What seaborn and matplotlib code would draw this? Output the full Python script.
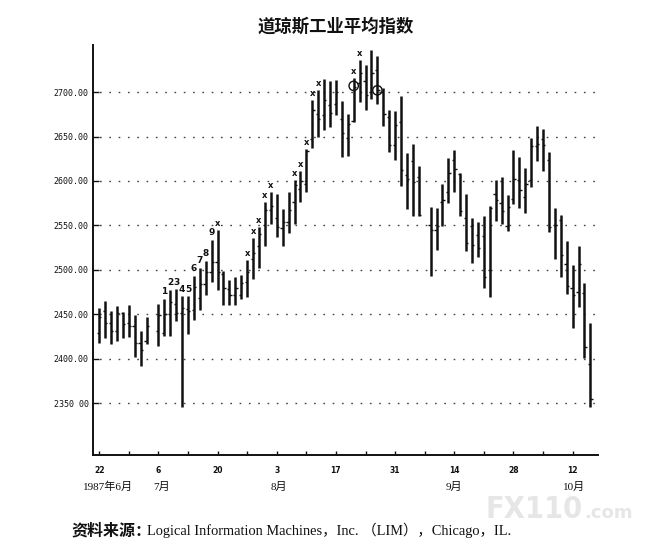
import numpy as np
import pandas as pd
import matplotlib
matplotlib.use("Agg")
import matplotlib.pyplot as plt
import seaborn as sns

# ---------------- data ----------------
dates = ["1987-06-22", "1987-06-23", "1987-06-24", "1987-06-25", "1987-06-26",
         "1987-06-29", "1987-06-30", "1987-07-01", "1987-07-02",
         "1987-07-06", "1987-07-07", "1987-07-08", "1987-07-09", "1987-07-10",
         "1987-07-13", "1987-07-14", "1987-07-15", "1987-07-16", "1987-07-17",
         "1987-07-20", "1987-07-21", "1987-07-22", "1987-07-23", "1987-07-24",
         "1987-07-27", "1987-07-28", "1987-07-29", "1987-07-30", "1987-07-31",
         "1987-08-03", "1987-08-04", "1987-08-05", "1987-08-06", "1987-08-07",
         "1987-08-10", "1987-08-11", "1987-08-12", "1987-08-13", "1987-08-14",
         "1987-08-17", "1987-08-18", "1987-08-19", "1987-08-20", "1987-08-21",
         "1987-08-24", "1987-08-25", "1987-08-26", "1987-08-27", "1987-08-28",
         "1987-08-31", "1987-09-01", "1987-09-02", "1987-09-03", "1987-09-04",
         "1987-09-08", "1987-09-09", "1987-09-10", "1987-09-11",
         "1987-09-14", "1987-09-15", "1987-09-16", "1987-09-17", "1987-09-18",
         "1987-09-21", "1987-09-22", "1987-09-23", "1987-09-24", "1987-09-25",
         "1987-09-28", "1987-09-29", "1987-09-30", "1987-10-01", "1987-10-02",
         "1987-10-05", "1987-10-06", "1987-10-07", "1987-10-08", "1987-10-09",
         "1987-10-12", "1987-10-13", "1987-10-14", "1987-10-15"]

high = [2457, 2465, 2454, 2459, 2453,
        2460, 2449, 2431, 2447,
        2461, 2467, 2477, 2478, 2470,
        2470, 2493, 2502, 2510, 2534,
        2545, 2499, 2488, 2492, 2494,
        2511, 2536, 2548, 2576, 2588,
        2585, 2568, 2588, 2601, 2611,
        2636, 2691, 2702, 2715, 2712,
        2714, 2690, 2675, 2716, 2736,
        2730, 2747, 2741, 2705, 2680,
        2679, 2696, 2631, 2642, 2617,
        2571, 2570, 2596, 2626,
        2635, 2609, 2585, 2558, 2554,
        2560, 2572, 2601, 2604, 2584,
        2635, 2627, 2614, 2648, 2662,
        2658, 2633, 2570, 2562, 2532,
        2505, 2527, 2485, 2440]

low = [2418, 2423, 2416, 2420, 2423,
       2424, 2402, 2392, 2416,
       2414, 2426, 2425, 2442, 2346,
       2428, 2444, 2455, 2472, 2486,
       2477, 2460, 2460, 2460, 2467,
       2469, 2490, 2502, 2527, 2552,
       2537, 2527, 2541, 2552, 2576,
       2588, 2637, 2650, 2657, 2661,
       2674, 2627, 2628, 2666, 2689,
       2680, 2692, 2687, 2662, 2633,
       2624, 2594, 2568, 2560, 2560,
       2493, 2522, 2549, 2575,
       2588, 2560, 2521, 2508, 2514,
       2480, 2469, 2555, 2551, 2544,
       2574, 2569, 2564, 2593, 2622,
       2611, 2543, 2512, 2492, 2473,
       2434, 2458, 2401, 2346]

open_ = [2429, 2454, 2440, 2431, 2451,
         2440, 2437, 2418, 2420,
         2431, 2429, 2450, 2462, 2451,
         2456, 2455, 2468, 2484, 2498,
         2509, 2495, 2478, 2472, 2472,
         2486, 2512, 2527, 2550, 2567,
         2558, 2547, 2554, 2576, 2591,
         2596, 2647, 2675, 2674, 2685,
         2687, 2670, 2648, 2668, 2710,
         2712, 2700, 2725, 2700, 2672,
         2640, 2666, 2607, 2622, 2604,
         2550, 2545, 2576, 2587,
         2624, 2608, 2558, 2549, 2539,
         2538, 2500, 2585, 2575, 2549,
         2580, 2601, 2582, 2601, 2639,
         2647, 2624, 2550, 2556, 2507,
         2480, 2475, 2474, 2394]

close = [2447, 2440, 2431, 2451, 2439,
         2437, 2418, 2410, 2437,
         2449, 2450, 2464, 2451, 2457,
         2454, 2481, 2484, 2498, 2509,
         2498, 2480, 2472, 2480, 2485,
         2497, 2519, 2540, 2567, 2572,
         2548, 2554, 2567, 2595, 2600,
         2634, 2680, 2670, 2691, 2676,
         2700, 2654, 2664, 2706, 2721,
         2697, 2721, 2702, 2675, 2640,
         2663, 2612, 2602, 2599, 2562,
         2545, 2549, 2579, 2609,
         2613, 2566, 2530, 2528, 2525,
         2492, 2569, 2579, 2566, 2571,
         2602, 2590, 2596, 2639, 2642,
         2641, 2548, 2550, 2517, 2482,
         2472, 2507, 2413, 2355]

# count labels above bars
count_dates = ["1987-07-07", "1987-07-08", "1987-07-09", "1987-07-10", "1987-07-13",
               "1987-07-14", "1987-07-15", "1987-07-16", "1987-07-17"]
count_labels = ["1", "2", "3", "4", "5", "6", "7", "8", "9"]
x_mark_dates = ["1987-07-20", "1987-07-27", "1987-07-28", "1987-07-29", "1987-07-30",
                "1987-07-31", "1987-08-06", "1987-08-07", "1987-08-10", "1987-08-11",
                "1987-08-12", "1987-08-20", "1987-08-21"]
circle_dates = ["1987-08-20", "1987-08-26"]
circle_values = [2707, 2702]

start = "1987-06-22"
week_ticks = ["1987-06-22", "1987-06-29", "1987-07-06", "1987-07-13", "1987-07-20",
              "1987-07-27", "1987-08-03", "1987-08-10", "1987-08-17", "1987-08-24",
              "1987-08-31", "1987-09-07", "1987-09-14", "1987-09-21", "1987-09-28",
              "1987-10-05", "1987-10-12"]
week_labels = ["22", "", "6", "", "20", "", "3", "", "17", "", "31", "", "14", "", "28", "", "12"]
month_labels = ["1987年6月", "7月", "8月", "9月", "10月"]
y_ticks = [2350, 2400, 2450, 2500, 2550, 2600, 2650, 2700]
y_labels = ["2350 00", "2400.00", "2450.00", "2500.00", "2550.00", "2600.00", "2650.00", "2700.00"]

title = "道琼斯工业平均指数"
source_head = "资料来源："
source_body = "Logical Information Machines，Inc. （LIM），Chicago，IL."

# ---------------- build ----------------
df = pd.DataFrame({"date": dates, "high": high, "low": low, "open": open_, "close": close})
df["x"] = np.busday_count(start, df["date"].values.astype("datetime64[D]"))

def xpos(ds):
    return np.busday_count(start, np.array(ds, dtype="datetime64[D]"))

sns.set_theme(style="white")
plt.rcParams["font.family"] = ["DejaVu Sans", "Noto Sans CJK SC"]

W, H = 664, 551
fig = plt.figure(figsize=(W / 100, H / 100), dpi=100)

# watermark (behind everything)
fig.text(486 / W, 1 - 518 / H, "FX110", ha="left", va="baseline", fontsize=22,
         fontweight="heavy", fontstretch="condensed", color="#e6e6e6",
         family=["DejaVu Sans"], zorder=0)
fig.text(584 / W, 1 - 518 / H, ".com", ha="left", va="baseline", fontsize=13,
         fontweight="bold", color="#e6e6e6", family=["DejaVu Sans"], zorder=0)

ax_left, ax_right, ax_top, ax_bottom = 93, 597.5, 45, 455
ax = fig.add_axes([ax_left / W, 1 - ax_bottom / H, (ax_right - ax_left) / W, (ax_bottom - ax_top) / H])
ax.patch.set_alpha(0)

ax.set_xlim(-1.05, 84.2)
ax.set_ylim(2291.5, 2753)

# grid
ax.set_yticks(y_ticks)
ax.yaxis.grid(True, linestyle=(2, (1.2, 5.5)), color="#444444", linewidth=1.0)
ax.xaxis.grid(False)
ax.set_axisbelow(True)

# bars
tick_len = 0.38
ax.vlines(df["x"], df["low"], df["high"], color="#111111", linewidth=1.8, zorder=3)
ax.hlines(df["open"], df["x"] - tick_len, df["x"], color="#111111", linewidth=1.0, zorder=3)
ax.hlines(df["close"], df["x"], df["x"] + tick_len, color="#111111", linewidth=1.0, zorder=3)

# count labels
hi_map = dict(zip(df["date"], df["high"]))
for d, lab in zip(count_dates, count_labels):
    ax.annotate(lab, (xpos([d])[0], hi_map[d]), xytext=(0, 2), textcoords="offset points",
                ha="center", va="bottom", fontsize=6.5, fontweight="bold", color="#111111")
for d in x_mark_dates:
    ax.annotate("x", (xpos([d])[0], hi_map[d]), xytext=(0, 1.5), textcoords="offset points",
                ha="center", va="bottom", fontsize=6, fontweight="bold", color="#111111")

# circles
circ = pd.DataFrame({"x": xpos(circle_dates), "y": circle_values})
sns.scatterplot(data=circ, x="x", y="y", ax=ax, marker="o", s=45, facecolor="none",
                edgecolor="#111111", linewidth=1.0, zorder=4, legend=False)

# axes styling
for s in ["top", "right"]:
    ax.spines[s].set_visible(False)
for s in ["left", "bottom"]:
    ax.spines[s].set_color("#111111")
    ax.spines[s].set_linewidth(1.4)

ax.set_yticklabels(y_labels, fontfamily="DejaVu Sans Mono", fontsize=6)
ax.tick_params(axis="y", direction="in", length=4, width=1, pad=3, colors="#111111", left=True)
ax.set_xticks(xpos(week_ticks))
ax.set_xticklabels(week_labels, fontsize=5.5, fontweight="bold")
ax.tick_params(axis="x", direction="in", length=3, width=1, pad=8, colors="#111111", bottom=True)
ax.set_xlabel("")
ax.set_ylabel("")

# month labels
month_pos = [1.5, 10.5, 30.3, 60.0, 80.2]
for p, lab in zip(month_pos, month_labels):
    ax.text(p, -32 / (ax_bottom - ax_top), lab, transform=ax.get_xaxis_transform(),
            ha="center", va="center", fontsize=8,
            family=["Liberation Serif", "Noto Sans CJK SC"], color="#111111", zorder=5)

# title
fig.text(335.5 / W, 1 - 27 / H, title, ha="center", va="center", fontsize=12.5,
         fontweight="bold", family=["Noto Sans CJK SC"], color="#111111")

# source
fig.text(71 / W, 1 - 530 / H, source_head, ha="left", va="center", fontsize=11.5,
         fontweight="bold", family=["Noto Sans CJK SC"], color="#111111")
fig.text(147 / W, 1 - 530 / H, source_body, ha="left", va="center", fontsize=10.4,
         family=["Liberation Serif", "Noto Sans CJK SC"], color="#111111")

fig.savefig("out.png", dpi=100, facecolor="white")
